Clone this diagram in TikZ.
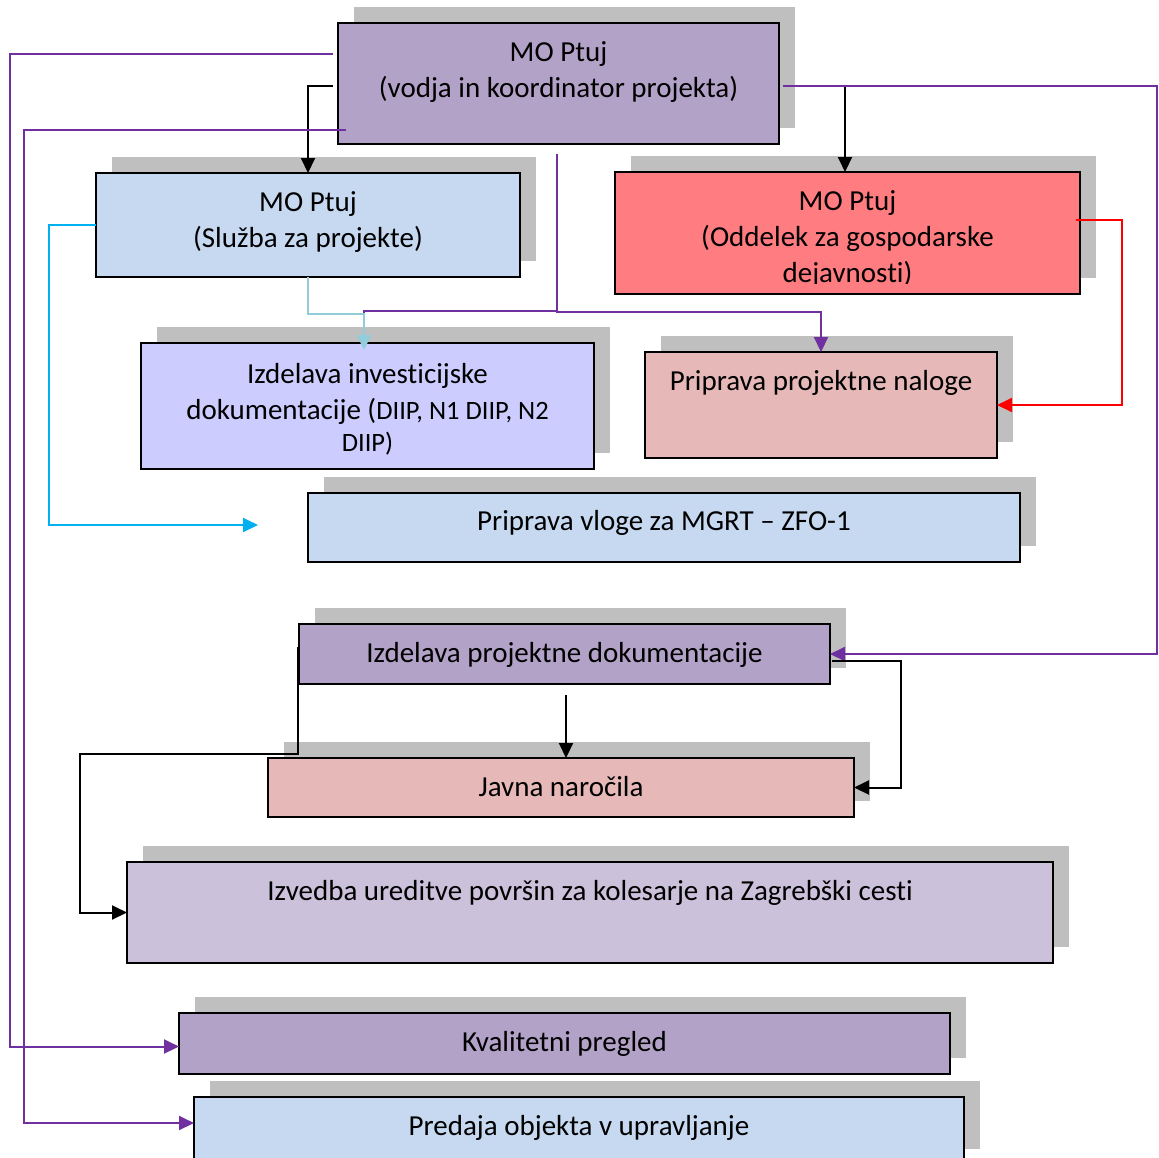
\documentclass[tikz,border=0pt]{standalone}
\usepackage{fontspec}
\setmainfont{Carlito}[Ligatures=NoCommon]
\usetikzlibrary{arrows.meta,shadows}
\definecolor{shgray}{HTML}{BFBFBF}
\definecolor{fPurple}{HTML}{B2A2C7}
\definecolor{fBlue}{HTML}{C6D9F1}
\definecolor{fRed}{HTML}{FF7C80}
\definecolor{fLav}{HTML}{CCCCFF}
\definecolor{fRose}{HTML}{E6B9B8}
\definecolor{fLilac}{HTML}{CCC1DA}
\definecolor{lPurple}{HTML}{7030A0}
\definecolor{lCyan}{HTML}{00B0F0}
\definecolor{lLight}{HTML}{92CDDC}
\definecolor{lRed}{HTML}{FF0000}
\begin{document}
\begin{tikzpicture}[x=1pt,y=-1pt,
  box/.style={rectangle, draw=black, line width=2.2pt, inner sep=0pt, outer sep=0pt,
    drop shadow={shadow xshift=15.5pt, shadow yshift=16.5pt, fill=shgray, opacity=1}},
  txt/.style={font=\fontsize{29}{36}\selectfont, align=center, inner sep=0pt},
  one/.style={font=\fontsize{29}{36}\selectfont, inner sep=0pt, anchor=base},
  con/.style={line width=2pt},
  tip/.style={-{Triangle[length=15pt,width=14pt]}},
  blk/.style={con, draw=black},
  pur/.style={con, draw=lPurple},
  cya/.style={con, draw=lCyan},
  lbl/.style={con, draw=lLight},
  red/.style={con, draw=lRed}
]
\useasboundingbox (0,0) rectangle (1159,1157);

% boxes
\node[box, fill=fPurple, minimum width=441pt, minimum height=121pt] (b1) at (558.5,83.5) {};
\node[box, fill=fBlue,   minimum width=424pt, minimum height=104pt] (b2) at (308,225) {};
\node[box, fill=fRed,    minimum width=465pt, minimum height=122pt] (b3) at (847.5,233) {};
\node[box, fill=fLav,    minimum width=453pt, minimum height=126pt] (b4) at (367.5,406) {};
\node[box, fill=fRose,   minimum width=352pt, minimum height=106pt] (b5) at (821,405) {};
\node[box, fill=fBlue,   minimum width=712pt, minimum height=69pt]  (b6) at (664,527.5) {};
\node[box, fill=fPurple, minimum width=531pt, minimum height=60pt]  (b7) at (564.5,654) {};
\node[box, fill=fRose,   minimum width=586pt, minimum height=59pt]  (b8) at (561,787.5) {};
\node[box, fill=fLilac,  minimum width=926pt, minimum height=101pt] (b9) at (590,912.5) {};
\node[box, fill=fPurple, minimum width=771pt, minimum height=61pt]  (b10) at (564.5,1043.5) {};
\node[box, fill=fBlue,   minimum width=770pt, minimum height=68pt]  (b11) at (579,1131) {};

% texts
\node[txt] (t1) at (558.5,72) {MO Ptuj\\(vodja in koordinator projekta)};
\node[txt] (t2) at (308,222.5) {MO Ptuj\\(Služba za projekte)};
\begin{scope}
\clip (615,172) rectangle (1080,283);
\node[txt] (t3) at (847.5,239) {MO Ptuj\\(Oddelek za gospodarske\\dejavnosti)};
\end{scope}
\node[txt] (t4) at (367.5,409.5) {Izdelava investicijske\\dokumentacije ({\fontsize{26.5}{32}\selectfont DIIP, N1 DIIP, N2}\\[-4pt]{\fontsize{26.5}{32}\selectfont DIIP)}};
\node[one] (t5) at (821,390.7) {Priprava projektne naloge};
\node[one] (t6) at (664,530) {Priprava vloge za MGRT – ZFO-1};
\node[one] (t7) at (564.5,662.7) {Izdelava projektne dokumentacije};
\node[one] (t8) at (561,796.7) {Javna naročila};
\node[one] (t9) at (590,900) {Izvedba ureditve površin za kolesarje na Zagrebški cesti};
\node[one] (t10) at (564.5,1051.7) {Kvalitetni pregled};
\node[one] (t11) at (579,1135.7) {Predaja objekta v upravljanje};

% connector points
\coordinate (s1) at (333,86);
\coordinate (s2) at (845,86);
\coordinate (pA) at (333,54);
\coordinate (vA) at (10,54);
\coordinate (pB) at (346,130);
\coordinate (vB) at (24,130);
\coordinate (pC) at (783,86);
\coordinate (vC) at (1157,86);
\coordinate (pD) at (557,154);
\coordinate (jD) at (557,312);
\coordinate (jE) at (557,311);
\coordinate (kE) at (364,311);
\coordinate (eE) at (364,316);
\coordinate (kL) at (364,314);
\coordinate (eL) at (364,350);
\coordinate (cC) at (49,525);
\coordinate (eC) at (258,525);
\coordinate (pR) at (1076,220);
\coordinate (vR) at (1122,220);
\coordinate (k5) at (566,695);
\coordinate (p6) at (832,661);
\coordinate (v6) at (901,661);
\coordinate (p7) at (298,647);
\coordinate (q7) at (298,754);
\coordinate (r7) at (80,754);

% connectors
\draw[blk,tip] (s1) -| (b2.north);
\draw[blk,tip] (s2) -- (s2 |- b3.north);
\draw[pur,tip] (pA) -- (vA) |- ([yshift=-3pt]b10.west);
\draw[pur,tip] (pB) -- (vB) |- ([yshift=8pt]b11.west);
\draw[pur,tip] (pC) -- (vC) |- (b7.east);
\draw[pur,tip] (pD) -- (jD) -| (b5.north);
\draw[pur] (jE) -- (kE) -- (eE);
\draw[lbl,tip] (b2.south) |- (kL) -- (eL);
\draw[cya,tip] (b2.west) -| (cC) -- (eC);
\draw[red,tip] (pR) -- (vR) |- (b5.east);
\draw[blk,tip] (k5) -- (k5 |- b8.north);
\draw[blk,tip] (p6) -- (v6) |- (b8.east);
\draw[blk,tip] (p7) -- (q7) -- (r7) |- (b9.west);
\end{tikzpicture}
\end{document}
